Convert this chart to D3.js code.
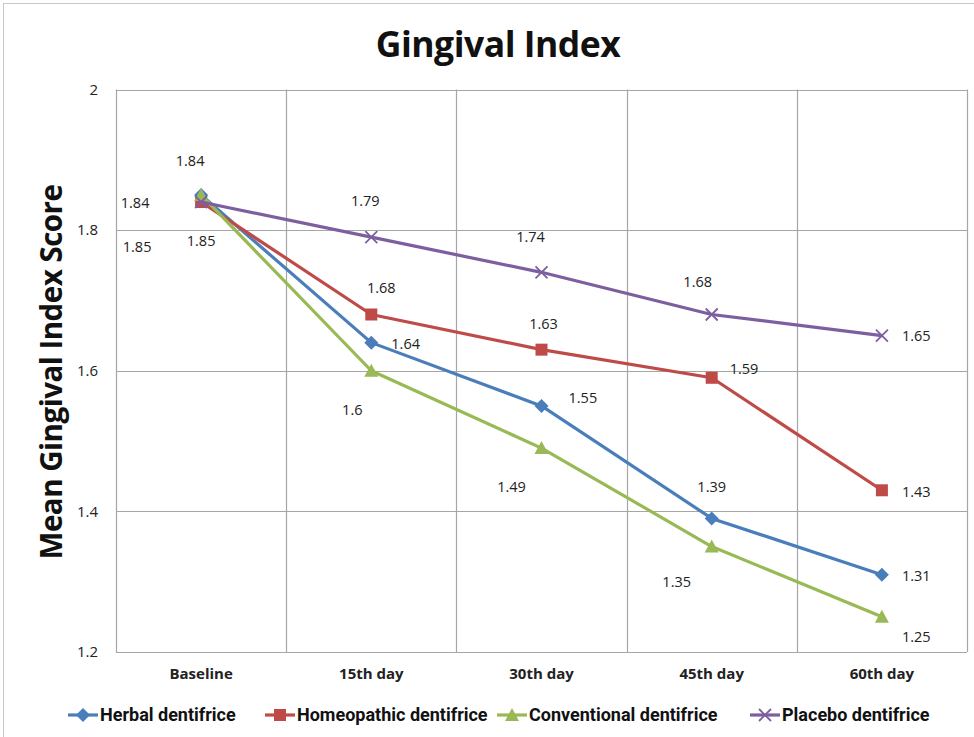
<!DOCTYPE html>
<html><head><meta charset="utf-8">
<script src="https://cdn.jsdelivr.net/npm/d3@7"></script>
<style>body{margin:0;background:#fff}svg{display:block}</style>
</head><body>
<script>
const categories = ["Baseline", "15th day", "30th day", "45th day", "60th day"];
const seriesNames = ["Herbal dentifrice", "Homeopathic dentifrice", "Conventional dentifrice", "Placebo dentifrice"];
const herbal = [1.85, 1.64, 1.55, 1.39, 1.31];
const homeopathic = [1.84, 1.68, 1.63, 1.59, 1.43];
const conventional = [1.85, 1.60, 1.49, 1.35, 1.25];
const placebo = [1.84, 1.79, 1.74, 1.68, 1.65];
const yTicks = [1.2, 1.4, 1.6, 1.8, 2];

const colors = ["#4a7ebb", "#be4b48", "#98b954", "#7d5fa0"];
const markers = ["diamond", "square", "triangle", "x"];
// label offsets (dx, dy) from point, in px
const labelOffsets = [
  [[0, 46], [20, 1], [27, -8], [0, -31], [20, 1]],
  [[-66, 1], [10, -27], [2, -26], [18, -9], [20, 2]],
  [[-64, 52], [-19, 39], [-30, 39], [-35, 35], [20, 20]],
  [[-11, -41], [-6, -36], [-11, -35], [-14, -33], [20, 0]]
];
const series = [herbal, homeopathic, conventional, placebo];

const W = 974, H = 737;
const svg = d3.select("body").append("svg").attr("width", W).attr("height", H);
svg.append("rect").attr("x", 3.5).attr("y", 3.5).attr("width", 990).attr("height", 760)
  .attr("fill", "none").attr("stroke", "#c8c8c8");

const pLeft = 116, pRight = 967, pTop = 89.5, pBottom = 652;
const x = d3.scaleBand().domain(categories).range([pLeft, pRight]);
const y = d3.scaleLinear().domain([1.2, 2]).range([pBottom, pTop]);

// grid
svg.append("g").selectAll("line").data(yTicks).join("line")
  .attr("x1", pLeft).attr("x2", pRight).attr("y1", d => Math.round(y(d)) + 0.5).attr("y2", d => Math.round(y(d)) + 0.5)
  .attr("stroke", "#a6a6a6").attr("stroke-width", 1.2);
const vx = categories.map(c => x(c)).concat([pRight]);
svg.append("g").selectAll("line").data(vx).join("line")
  .attr("x1", d => Math.round(d) + 0.5).attr("x2", d => Math.round(d) + 0.5).attr("y1", pTop).attr("y2", pBottom)
  .attr("stroke", "#a6a6a6").attr("stroke-width", 1.2);

// y axis labels
const yAxis = d3.axisLeft(y).tickValues(yTicks).tickSize(0).tickPadding(18).tickFormat(d3.format("~g"));
const gy = svg.append("g").attr("transform", `translate(${pLeft},0)`).call(yAxis);
gy.select(".domain").remove();
gy.selectAll("text").attr("font-family", "Open Sans, sans-serif").attr("font-size", 15).attr("fill", "#222");

// x axis labels
const xAxis = d3.axisBottom(x).tickSize(0).tickPadding(16);
const gx = svg.append("g").attr("transform", `translate(0,${pBottom})`).call(xAxis);
gx.select(".domain").remove();
gx.selectAll("text").attr("font-family", "Open Sans, sans-serif").attr("font-size", 15).attr("font-weight", "bold").attr("fill", "#222");

// titles
svg.append("text").attr("x", 498).attr("y", 57).attr("text-anchor", "middle")
  .attr("font-family", "Open Sans, sans-serif").attr("font-weight", "bold").attr("font-size", 35.5).attr("fill", "#111")
  .attr("letter-spacing", -0.5).text("Gingival Index");
svg.append("text").attr("transform", "translate(62,372) rotate(-90)").attr("text-anchor", "middle")
  .attr("font-family", "Open Sans, sans-serif").attr("font-weight", "bold").attr("font-size", 29.5).attr("fill", "#111")
  .attr("letter-spacing", -0.5).text("Mean Gingival Index Score");

function drawMarker(g, type, color, cx, cy) {
  if (type === "diamond") {
    g.append("path").attr("d", `M${cx},${cy-7}L${cx+7},${cy}L${cx},${cy+7}L${cx-7},${cy}Z`).attr("fill", color);
  } else if (type === "square") {
    g.append("rect").attr("x", cx - 6).attr("y", cy - 6).attr("width", 12).attr("height", 12).attr("fill", color);
  } else if (type === "triangle") {
    g.append("path").attr("d", `M${cx},${cy-7}L${cx+7},${cy+6}L${cx-7},${cy+6}Z`).attr("fill", color);
  } else {
    g.append("path").attr("d", `M${cx-6},${cy-6}L${cx+6},${cy+6}M${cx-6},${cy+6}L${cx+6},${cy-6}`)
      .attr("stroke", color).attr("stroke-width", 1.8).attr("fill", "none");
  }
}

const cx = c => x(c) + x.bandwidth() / 2;
const line = d3.line().x((d, i) => cx(categories[i])).y(d => y(d));

series.forEach((vals, si) => {
  const g = svg.append("g");
  g.append("path").attr("d", line(vals)).attr("fill", "none").attr("stroke", colors[si]).attr("stroke-width", 3.2)
    .attr("stroke-linejoin", "round");
  vals.forEach((v, i) => drawMarker(g, markers[si], colors[si], cx(categories[i]), y(v)));
});

// data labels
series.forEach((vals, si) => {
  vals.forEach((v, i) => {
    const [dx, dy] = labelOffsets[si][i];
    const px = cx(categories[i]) + dx, py = y(v) + dy;
    svg.append("text").attr("x", px).attr("y", py).attr("dy", "0.35em")
      .attr("text-anchor", dx >= 15 ? "start" : "middle")
      .attr("font-family", "Open Sans, sans-serif").attr("font-size", 14.5).attr("fill", "#222")
      .text(d3.format("~g")(v));
  });
});

// legend
const legendX = [68, 265, 497, 750];
const legY = 715;
seriesNames.forEach((n, si) => {
  const g = svg.append("g");
  const lx = legendX[si];
  g.append("line").attr("x1", lx).attr("x2", lx + 30).attr("y1", legY).attr("y2", legY)
    .attr("stroke", colors[si]).attr("stroke-width", 3.2);
  drawMarker(g, markers[si], colors[si], lx + 15, legY);
  g.append("text").attr("x", lx + 32).attr("y", legY).attr("dy", "0.36em")
    .attr("font-family", "Roboto, sans-serif").attr("font-weight", "bold").attr("font-size", 18)
    .attr("fill", "#111").text(n);
});
</script>
</body></html>
